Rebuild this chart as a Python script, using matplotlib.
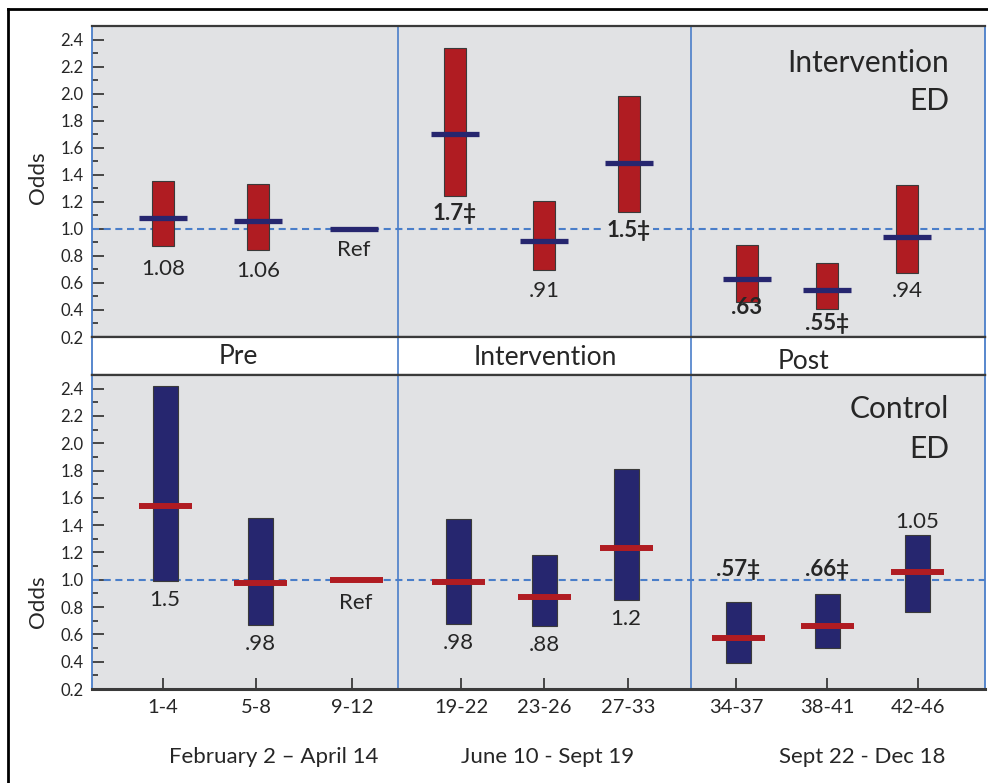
import matplotlib
matplotlib.use("Agg")
import matplotlib.pyplot as plt
import matplotlib.transforms as mtransforms
from matplotlib.lines import Line2D
from matplotlib.ticker import MultipleLocator, FormatStrFormatter
import numpy as np

plt.rcParams['font.family'] = ['Lato', 'DejaVu Sans']

# ---- data ----
weeks = ['1-4', '5-8', '9-12', '19-22', '23-26', '27-33', '34-37', '38-41', '42-46']
periods = ['Pre', 'Intervention', 'Post']
period_dates = ['February 2 \u2013 April 14', 'June 10 - Sept 19', 'Sept 22 - Dec 18']

# intervention ED: odds ratio and 95% CI (week 9-12 is the reference)
int_odds = [1.08, 1.06, 1.00, 1.70, 0.91, 1.49, 0.63, 0.545, 0.94]
int_lo = [0.87, 0.845, np.nan, 1.245, 0.695, 1.125, 0.46, 0.41, 0.675]
int_hi = [1.35, 1.33, np.nan, 2.34, 1.205, 1.98, 0.88, 0.745, 1.325]
int_labels = ['1.08', '1.06', 'Ref', '1.7\u2021', '.91', '1.5\u2021', '.63', '.55\u2021', '.94']
int_bold = [False, False, False, True, False, True, True, True, False]

# control ED
ctl_odds = [1.54, 0.98, 1.00, 0.983, 0.877, 1.236, 0.57, 0.663, 1.054]
ctl_lo = [0.99, 0.666, np.nan, 0.673, 0.661, 0.855, 0.393, 0.497, 0.767]
ctl_hi = [2.42, 1.455, np.nan, 1.444, 1.182, 1.81, 0.836, 0.894, 1.329]
ctl_labels = ['1.5', '.98', 'Ref', '.98', '.88', '1.2', '.57\u2021', '.66\u2021', '1.05']
ctl_bold = [False, False, False, False, False, False, True, True, False]

# ---- layout (pixel-like x units, 92..985) ----
xlim = (92, 985)
tick_x = [163, 256, 352, 461, 544, 628, 736, 827, 918]
top_x = [163, 258, 354, 455, 544, 629, 747, 827, 907]
bot_x = [165, 260, 356, 458, 544, 626, 738, 827, 917]
dividers = [398, 691]
period_x = [238, 545, 803]
period_base = [0.29, 0.263, 0.158]
date_x = [274, 548, 862]
top_label_y = [0.706, 0.686, 0.847, 1.113, 0.543, 0.987, 0.419, 0.30, 0.538]
bot_label_y = [0.853, 0.528, 0.83, 0.536, 0.521, 0.713, 1.074, 1.074, 1.42]

RED = '#B01C22'
NAVY = '#26266F'
BG = '#E1E2E4'
BLUE = '#4A7EC9'
DARK = '#3A3A3A'
TXT = '#262626'

W, H = 988, 783
fig = plt.figure(figsize=(W / 100, H / 100), dpi=100)


def fig_rect(x0, y0, x1, y1):
    return [x0 / W, 1 - y1 / H, (x1 - x0) / W, (y1 - y0) / H]


ax_top = fig.add_axes(fig_rect(92, 26, 985, 337))
ax_mid = fig.add_axes(fig_rect(92, 337, 985, 375))
ax_bot = fig.add_axes(fig_rect(92, 375, 985, 689))


def style_panel(ax, odds_y):
    ax.set_facecolor(BG)
    ax.set_xlim(*xlim)
    ax.set_ylim(0.2, 2.5)
    for s in ('left', 'right'):
        ax.spines[s].set_color(BLUE)
        ax.spines[s].set_linewidth(1.3)
    for s in ('top', 'bottom'):
        ax.spines[s].set_color(DARK)
        ax.spines[s].set_linewidth(1.6)
    ax.yaxis.set_major_locator(MultipleLocator(0.2))
    ax.yaxis.set_minor_locator(MultipleLocator(0.1))
    ax.yaxis.set_major_formatter(FormatStrFormatter('%.1f'))
    ax.tick_params(axis='y', which='major', direction='in', length=8.5, width=1.3,
                   color=DARK, labelsize=12, labelcolor=TXT, pad=6)
    ax.tick_params(axis='y', which='minor', direction='in', length=4.3, width=1.3, color=DARK)
    for d in dividers:
        ax.axvline(d, color=BLUE, lw=1.2, zorder=1)
    ax.axhline(1.0, color=BLUE, lw=1.5, ls=(0, (3.4, 2.2)), zorder=2)
    ax.text(-0.0605, odds_y, 'Odds', transform=ax.transAxes, rotation=90,
            ha='center', va='center', fontsize=16, color=TXT)


def draw_panel(ax, xs, odds, lo, hi, labels, bold, label_y, bar_color, line_color,
               bar_w, line_w, line_lw):
    for i in range(len(odds)):
        if not np.isnan(lo[i]):
            ax.bar(xs[i], hi[i] - lo[i], bottom=lo[i], width=bar_w, color=bar_color,
                   edgecolor=DARK, linewidth=0.8, zorder=3)
        ax.hlines(odds[i], xs[i] - line_w / 2, xs[i] + line_w / 2, color=line_color,
                  lw=line_lw, capstyle='butt', zorder=4)
        kw = {}
        if labels[i] == '1.5\u2021':
            kw['bbox'] = dict(facecolor=BG, edgecolor='none', pad=1.5)
        ax.text(xs[i], label_y[i], labels[i], ha='center', va='center',
                fontsize=16, color=TXT, fontweight='bold' if bold[i] else 'normal',
                zorder=5, **kw)


style_panel(ax_top, 0.511)
style_panel(ax_bot, 0.277)
ax_top.tick_params(axis='x', bottom=False, labelbottom=False)

draw_panel(ax_top, top_x, int_odds, int_lo, int_hi, int_labels, int_bold, top_label_y,
           RED, NAVY, 22, 48, 3.8)
draw_panel(ax_bot, bot_x, ctl_odds, ctl_lo, ctl_hi, ctl_labels, ctl_bold, bot_label_y,
           NAVY, RED, 25, 53, 4.3)

# group titles, right aligned in the corner
for ax, lines, ys in [(ax_top, ['Intervention', 'ED'], [0.852, 0.730]),
                      (ax_bot, ['Control', 'ED'], [0.862, 0.736])]:
    for s, y in zip(lines, ys):
        ax.text(949, y, s, transform=mtransforms.blended_transform_factory(ax.transData, ax.transAxes),
                ha='right', va='baseline', fontsize=21.5, color=TXT)

ax_bot.set_xticks(tick_x)
ax_bot.set_xticklabels(weeks)
ax_bot.spines['bottom'].set_linewidth(2.2)
ax_bot.tick_params(axis='x', direction='in', length=8, width=1.3, color=DARK,
                   labelsize=14.5, labelcolor=TXT, pad=7)

# middle band with period names
ax_mid.set_xlim(*xlim)
ax_mid.set_ylim(0, 1)
ax_mid.set_facecolor('white')
ax_mid.set_xticks([])
ax_mid.set_yticks([])
for s in ('left', 'right'):
    ax_mid.spines[s].set_color(BLUE)
    ax_mid.spines[s].set_linewidth(1.3)
for s in ('top', 'bottom'):
    ax_mid.spines[s].set_color(DARK)
    ax_mid.spines[s].set_linewidth(1.6)
for d in dividers:
    ax_mid.axvline(d, color=BLUE, lw=1.2)
for px, name, by in zip(period_x, periods, period_base):
    ax_mid.text(px, by, name, ha='center', va='baseline', fontsize=19, color=TXT)

# date ranges under the weeks
trans = mtransforms.blended_transform_factory(ax_bot.transData, ax_bot.transAxes)
for px, d in zip(date_x, period_dates):
    ax_bot.text(px, -0.2347, d, transform=trans, ha='center', va='baseline',
                fontsize=16, color=TXT)

# outer frame (only top and left edges are inside the picture)
fig.add_artist(Line2D([8 / W, 8 / W], [0, 1 - 9 / H], color='black', lw=2))
fig.add_artist(Line2D([8 / W, 1], [1 - 9 / H, 1 - 9 / H], color='black', lw=2))

fig.savefig('out.png', dpi=100)
